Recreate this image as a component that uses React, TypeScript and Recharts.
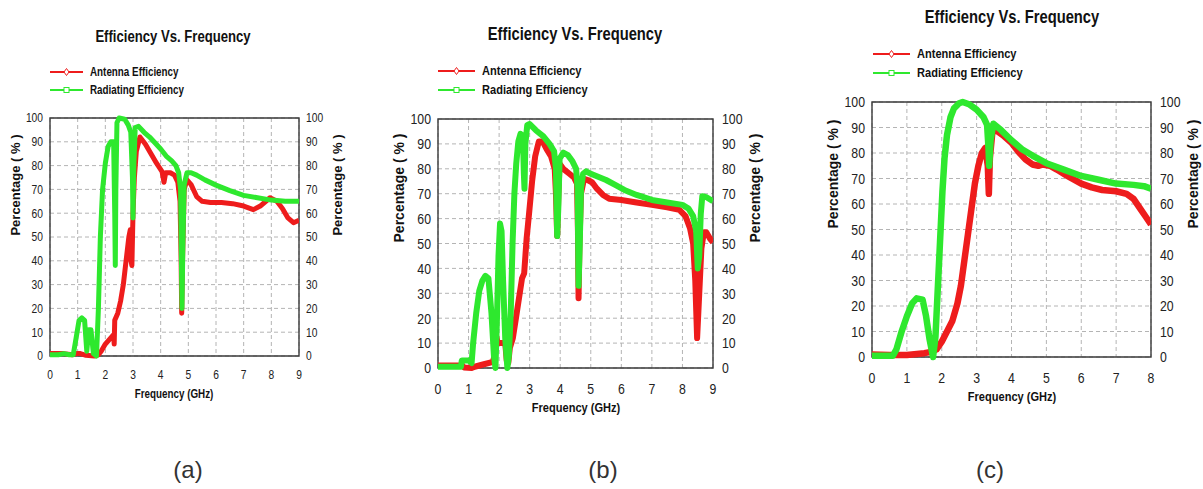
import React from 'react';
import { LineChart, Line, XAxis, YAxis, CartesianGrid, ReferenceArea } from 'recharts';

const RED = '#ee1c1c';
const GREEN = '#2ee82e';
const SANS = "'Liberation Sans', Arial, sans-serif";
const NX = 0.82; // horizontal squeeze to imitate a narrow face

const titleText = 'Efficiency Vs. Frequency';
const legendLabels = ['Antenna Efficiency', 'Radiating Efficiency'];
const xLabel = 'Frequency (GHz)';
const yLabel = 'Percentage ( % )';
const captions = ['(a)', '(b)', '(c)'];

const yTicks = [0, 10, 20, 30, 40, 50, 60, 70, 80, 90, 100];
const xTicks9 = [0, 1, 2, 3, 4, 5, 6, 7, 8, 9];
const xTicks8 = [0, 1, 2, 3, 4, 5, 6, 7, 8];

// ---- Panel (a) ----
const aAntFreq = [0, 0.5, 0.8, 0.95, 1.1, 1.3, 1.6, 1.75, 1.85, 2.0, 2.15, 2.3, 2.32, 2.34, 2.45, 2.55, 2.65, 2.75, 2.85, 2.9, 2.93, 2.96, 3.0, 3.05, 3.12, 3.25, 3.45, 3.65, 3.85, 4.05, 4.12, 4.18, 4.35, 4.5, 4.62, 4.7, 4.74, 4.76, 4.79, 4.85, 4.95, 5.1, 5.3, 5.5, 5.8, 6.2, 6.6, 7.0, 7.35, 7.6, 7.95, 8.2, 8.4, 8.6, 8.8, 9.0];
const aAntEff = [1, 1, 0.5, 1, 1, 0.3, 0, 0.5, 2, 5, 7, 9, 5, 15, 18, 23, 30, 40, 50, 53, 40, 38, 60, 75, 86, 92, 89, 85, 81, 77.5, 73, 77, 77, 76, 73, 65, 40, 18, 40, 70, 74, 72, 67, 65, 64.5, 64.5, 64, 63, 61.5, 63, 66.5, 65, 62, 58, 56, 57];
const aRadFreq = [0, 0.3, 0.5, 0.7, 0.84, 0.95, 1.05, 1.15, 1.25, 1.33, 1.4, 1.48, 1.57, 1.68, 1.75, 1.82, 1.9, 2.0, 2.1, 2.2, 2.3, 2.34, 2.36, 2.38, 2.42, 2.5, 2.7, 2.83, 2.92, 2.98, 3.0, 3.03, 3.08, 3.2, 3.4, 3.6, 3.8, 4.0, 4.2, 4.4, 4.55, 4.65, 4.72, 4.75, 4.77, 4.8, 4.85, 4.95, 5.1, 5.3, 5.6, 6.0, 6.5, 7.0, 7.5, 8.0, 8.5, 9.0];
const aRadEff = [0.5, 0.5, 1, 0.5, 0.5, 8, 15, 16, 15, 2, 11, 11, 1, 0, 20, 50, 70, 81, 88, 90, 90, 60, 38, 70, 98, 100, 99.5, 97, 94, 75, 58, 80, 96, 96.5, 94, 92, 89.5, 87, 84, 82, 80, 77, 70, 40, 20, 45, 72, 77, 77, 76, 74, 71.8, 69.5, 67.5, 66.5, 65.5, 65, 65];

// ---- Panel (b) ----
const bAntFreq = [0, 0.8, 0.85, 1.1, 1.2, 1.5, 1.8, 1.85, 1.9, 1.95, 2.1, 2.2, 2.25, 2.3, 2.35, 2.45, 2.55, 2.65, 2.75, 2.82, 2.86, 2.9, 2.98, 3.08, 3.18, 3.3, 3.42, 3.55, 3.7, 3.82, 3.86, 3.9, 3.94, 3.98, 4.1, 4.3, 4.45, 4.55, 4.58, 4.6, 4.63, 4.68, 4.78, 4.9, 5.05, 5.2, 5.4, 5.6, 6.0, 6.5, 7.0, 7.5, 7.9, 8.1, 8.25, 8.35, 8.42, 8.48, 8.55, 8.62, 8.7, 8.78, 8.9, 9.0];
const bAntEff = [1, 1, 0.2, 0, 0.5, 1.5, 2.5, 5, 13, 10, 10, 10, 3, 2, 8, 12, 20, 28, 36, 38, 45, 52, 62, 75, 85, 91, 91, 88, 85, 80, 70, 53, 70, 82, 80, 78, 76.5, 74, 55, 28, 50, 70, 76, 75.5, 74.5, 72, 69.5, 68, 67.5, 66.5, 65.5, 64.5, 63.5, 61, 56, 50, 35, 12, 30, 48, 54.5, 54.5, 52, 50.5];
const bRadFreq = [0, 0.5, 0.75, 0.78, 1.0, 1.1, 1.15, 1.25, 1.35, 1.45, 1.55, 1.65, 1.75, 1.83, 1.88, 1.93, 1.98, 2.03, 2.08, 2.13, 2.2, 2.27, 2.32, 2.38, 2.44, 2.5, 2.56, 2.63, 2.7, 2.78, 2.81, 2.83, 2.86, 2.92, 3.0, 3.2, 3.45, 3.65, 3.8, 3.86, 3.9, 3.94, 3.98, 4.1, 4.25, 4.4, 4.52, 4.57, 4.6, 4.64, 4.68, 4.75, 4.85, 5.0, 5.2, 5.5, 5.8, 6.1, 6.5, 7.0, 7.5, 8.0, 8.2, 8.35, 8.45, 8.5, 8.55, 8.6, 8.65, 8.8, 9.0];
const bRadEff = [0.5, 0.5, 0.5, 3, 3, 2, 10, 22, 31, 35, 37, 36, 22, 5, 0, 20, 45, 58, 55, 35, 12, 0, 5, 22, 50, 70, 82, 91, 94, 93, 78, 72, 90, 97.5, 98, 95.5, 93, 90, 87, 80, 53, 65, 84, 86.5, 85.5, 83, 80, 72, 33, 50, 72, 78, 79, 78, 77, 75.5, 73.5, 71.5, 69.5, 67.5, 66.5, 65.5, 64, 61, 55, 40, 45, 62, 69, 68.5, 67];

// ---- Panel (c) ----
const cAntFreq = [0, 0.5, 1.0, 1.5, 1.7, 1.85, 2.0, 2.15, 2.3, 2.45, 2.55, 2.65, 2.75, 2.85, 2.95, 3.05, 3.15, 3.25, 3.32, 3.35, 3.38, 3.45, 3.55, 3.75, 4.0, 4.2, 4.4, 4.6, 4.77, 4.9, 5.1, 5.3, 5.6, 6.0, 6.3, 6.6, 7.0, 7.3, 7.5, 7.7, 7.85, 8.0];
const cAntEff = [1, 0.8, 0.8, 1.5, 2, 3, 6, 10, 14, 21, 28, 38, 48, 58, 68, 75, 80, 82, 75, 64, 78, 88, 89, 87, 84, 80.5, 77.5, 75.5, 75, 75.5, 75, 73.5, 71, 68, 66.5, 65.5, 65, 64, 62, 58, 55, 52];
const cRadFreq = [0, 0.6, 0.7, 0.85, 1.0, 1.15, 1.28, 1.45, 1.55, 1.65, 1.75, 1.82, 1.88, 1.95, 2.02, 2.08, 2.15, 2.25, 2.35, 2.5, 2.6, 2.8, 3.0, 3.2, 3.3, 3.34, 3.36, 3.4, 3.48, 3.7, 4.0, 4.3, 4.6, 5.0, 5.5, 6.0, 6.5, 7.0, 7.5, 7.8, 8.0];
const cRadEff = [0.5, 0.5, 3, 10, 16, 21, 23, 22.5, 16, 7, 0, 8, 25, 45, 65, 78, 87, 94, 97.5, 99.5, 100, 99, 97, 94, 91, 82, 75, 85, 91.5, 89, 85, 81.5, 79, 76, 73.5, 71, 69.5, 68, 67.5, 67, 66];

const toRows = (f: number[], v: number[]) => f.map((x, i) => ({ f: x, v: v[i] }));

// narrow-looking text: squeeze horizontally around its anchor point
function NText(props: any) {
  const { x, y, sx = NX, children, ...rest } = props;
  return (
    <text x={0} y={0} transform={`translate(${x},${y}) scale(${sx},1)`} {...rest}>{children}</text>
  );
}

const makeTick = (fs: number, dy: string) => (props: any) => {
  const { x, y, payload, textAnchor } = props;
  return (
    <NText x={x} y={y} dy={dy} textAnchor={textAnchor} fontSize={fs} fill="#222" fontFamily={SANS}>
      {payload.value}
    </NText>
  );
};

type PanelProps = {
  left: number; top: number; width: number; height: number;
  margin: { top: number; right: number; bottom: number; left: number };
  xMax: number; xTicks: number[];
  ant: { f: number; v: number }[]; rad: { f: number; v: number }[];
  fs: number; tmx: number; tmyL: number; tmyR: number; sw: number;
};

function Panel(p: PanelProps) {
  return (
    <div style={{ position: 'absolute', left: p.left, top: p.top }}>
      <LineChart width={p.width} height={p.height} margin={p.margin}>
        <CartesianGrid yAxisId="l" stroke="#b4b4b4" strokeDasharray="4 3" />
        <XAxis type="number" dataKey="f" domain={[0, p.xMax]} ticks={p.xTicks} interval={0}
          allowDataOverflow axisLine={false} tickLine={false} tickSize={4} tickMargin={p.tmx} height={30}
          tick={makeTick(p.fs, '0.71em')} />
        <YAxis yAxisId="l" type="number" domain={[0, 100]} ticks={yTicks} interval={0} axisLine={false} tickLine={false}
          tickSize={4} tickMargin={p.tmyL} width={40} tick={makeTick(p.fs, '0.355em')} />
        <YAxis yAxisId="r" type="number" orientation="right" domain={[0, 100]} ticks={yTicks} interval={0} axisLine={false}
          tickLine={false} tickSize={4} tickMargin={p.tmyR} width={40} tick={makeTick(p.fs, '0.355em')} />
        <Line yAxisId="l" data={p.ant} dataKey="v" name={legendLabels[0]} type="linear" stroke={RED}
          strokeWidth={p.sw} dot={false} isAnimationActive={false} strokeLinejoin="round" />
        <Line yAxisId="r" data={p.rad} dataKey="v" name={legendLabels[1]} type="linear" stroke={GREEN}
          strokeWidth={p.sw} dot={false} isAnimationActive={false} strokeLinejoin="round" />
        <ReferenceArea yAxisId="l" x1={0} x2={p.xMax} y1={0} y2={100} fill="none" stroke="#3a3a3a"
          strokeWidth={1.4} ifOverflow="visible" />
      </LineChart>
    </div>
  );
}

type DecoProps = {
  title: [number, number, number];
  legend: { x0: number; x1: number; y0: number; y1: number; tx: number; fs: number };
  yl: { lx: number; rx: number; cy: number; fs: number };
  xl: [number, number, number];
  cap: [number, string];
};

function Deco({ title, legend, yl, xl, cap }: DecoProps) {
  const mx = (legend.x0 + legend.x1) / 2;
  return (
    <g>
      <NText x={title[0]} y={title[1]} textAnchor="middle" fontFamily={SANS} fontWeight="bold" fontSize={title[2]} fill="#111">{titleText}</NText>
      {[legend.y0, legend.y1].map((y, i) => (
        <g key={i}>
          <line x1={legend.x0} x2={legend.x1} y1={y} y2={y} stroke={i === 0 ? RED : GREEN} strokeWidth={2} />
          {i === 0 ? (
            <path d={`M${mx},${y - 3.5} L${mx + 2.5},${y} L${mx},${y + 3.5} L${mx - 2.5},${y} Z`} fill="#fff" stroke={RED} strokeWidth={1} />
          ) : (
            <rect x={mx - 2.5} y={y - 2.5} width={5} height={5} fill="#fff" stroke={GREEN} strokeWidth={1} />
          )}
          <NText x={legend.tx} y={y} dominantBaseline="central" fontFamily={SANS} fontWeight="bold" fontSize={legend.fs} fill="#111">{legendLabels[i]}</NText>
        </g>
      ))}
      <text transform={`translate(${yl.lx},${yl.cy}) rotate(-90)`} textAnchor="middle" dominantBaseline="central" fontFamily={SANS} fontWeight="bold" fontSize={yl.fs} fill="#111">{yLabel}</text>
      <text transform={`translate(${yl.rx},${yl.cy}) rotate(-90)`} textAnchor="middle" dominantBaseline="central" fontFamily={SANS} fontWeight="bold" fontSize={yl.fs} fill="#111">{yLabel}</text>
      <NText x={xl[0]} y={xl[1]} textAnchor="middle" dominantBaseline="central" fontFamily={SANS} fontWeight="bold" fontSize={xl[2]} fill="#111">{xLabel}</NText>
      <text x={cap[0]} y={478} textAnchor="middle" fontFamily={SANS} fontSize={24} fill="#333">{cap[1]}</text>
    </g>
  );
}

export default function App() {
  return (
    <div style={{ position: 'absolute', left: 0, top: 0, width: 1203, height: 489, background: '#fff', overflow: 'hidden' }}>
      <Panel left={0} top={0} width={360} height={420} margin={{ top: 118, right: 21, bottom: 34, left: 10 }}
        xMax={9} xTicks={xTicks9} ant={toRows(aAntFreq, aAntEff)} rad={toRows(aRadFreq, aRadEff)}
        fs={12.5} tmx={10} tmyL={3} tmyR={3} sw={5} />
      <Panel left={380} top={0} width={380} height={430} margin={{ top: 119, right: 7, bottom: 32, left: 18 }}
        xMax={9} xTicks={xTicks9} ant={toRows(bAntFreq, bAntEff)} rad={toRows(bRadFreq, bRadEff)}
        fs={15} tmx={11} tmyL={3} tmyR={5} sw={6} />
      <Panel left={820} top={0} width={383} height={430} margin={{ top: 102, right: 12, bottom: 43, left: 12 }}
        xMax={8} xTicks={xTicks8} ant={toRows(cAntFreq, cAntEff)} rad={toRows(cRadFreq, cRadEff)}
        fs={15} tmx={11} tmyL={3} tmyR={5} sw={6.5} />
      <svg width={1203} height={489} style={{ position: 'absolute', left: 0, top: 0, pointerEvents: 'none' }}>
        <Deco title={[173, 42, 16]} legend={{ x0: 50, x1: 83, y0: 72, y1: 90, tx: 90, fs: 12 }}
          yl={{ lx: 15, rx: 337, cy: 185, fs: 13 }} xl={[174, 394, 12]} cap={[188, captions[0]]} />
        <Deco title={[575, 40, 18]} legend={{ x0: 438, x1: 475, y0: 71, y1: 90, tx: 482, fs: 13.5 }}
          yl={{ lx: 399, rx: 755, cy: 188, fs: 14 }} xl={[576, 408, 13.5]} cap={[603, captions[1]]} />
        <Deco title={[1012, 23, 18]} legend={{ x0: 873, x1: 910, y0: 54, y1: 73, tx: 917, fs: 13.5 }}
          yl={{ lx: 833, rx: 1193, cy: 174, fs: 14 }} xl={[1012, 397, 13.5]} cap={[990, captions[2]]} />
      </svg>
    </div>
  );
}
